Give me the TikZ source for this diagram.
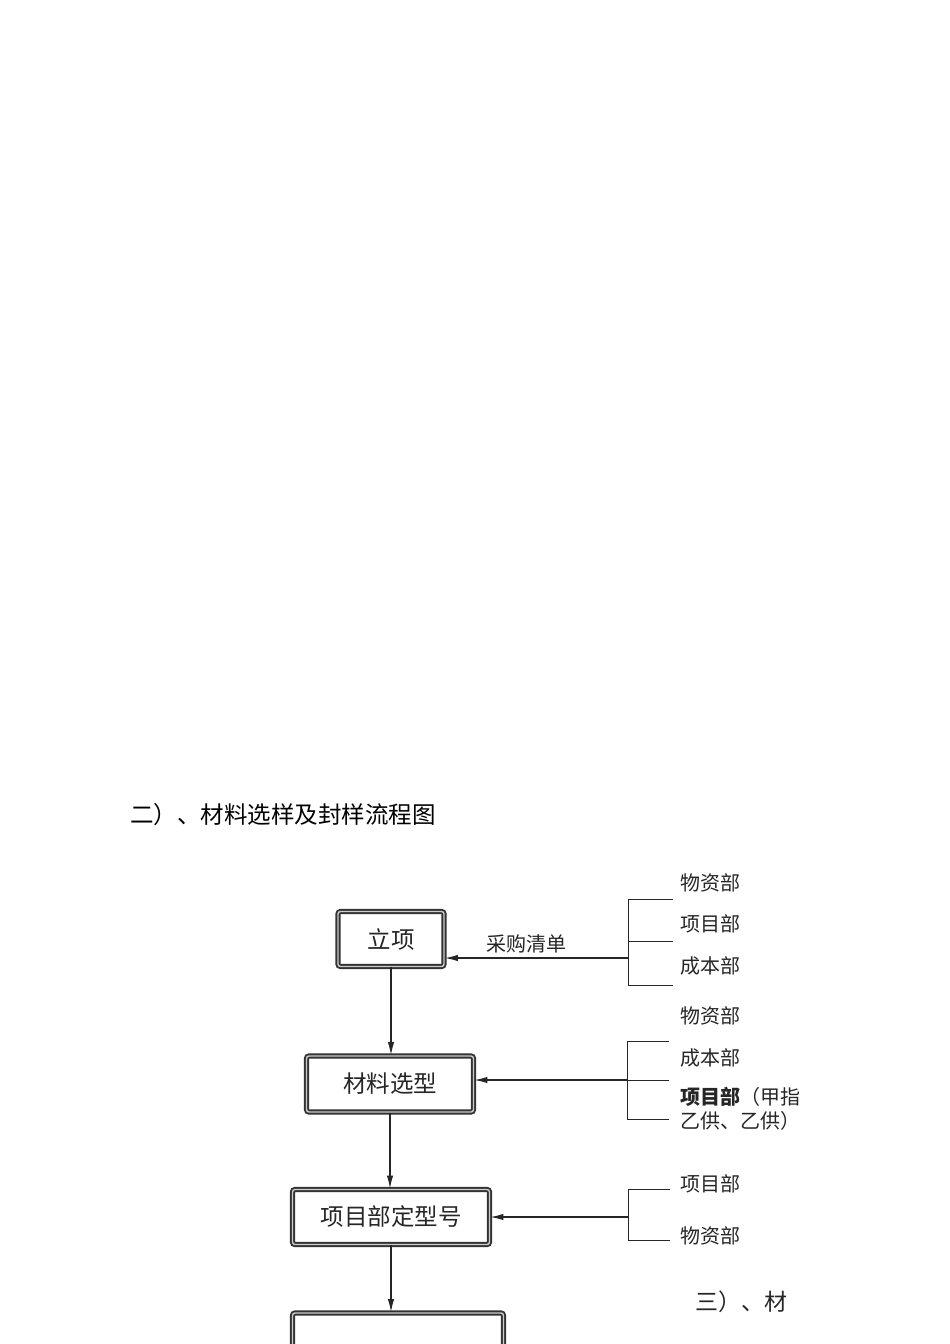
\documentclass[tikz,border=0pt]{standalone}
\usepackage{fontspec}
\setmainfont{Noto Sans CJK SC}
\usetikzlibrary{arrows.meta}

\tikzset{
    box/.style={draw=black!80, double=black!20, double distance=1.4pt, line width=1.9pt,
        rounded corners=2.5pt, font=\fontsize{23.5}{28}\selectfont, text=black!85},
    dept/.style={anchor=west, inner sep=0pt, font=\fontsize{20}{25}\selectfont, text=black!85},
    arr/.style={-{Latex[length=13pt,width=6.5pt]}, line width=1.2pt, draw=black!85},
    brk/.style={line width=1pt, draw=black!85}
}

\begin{document}
\begin{tikzpicture}[x=1pt, y=-1pt]

    \clip (0,0) rectangle (950,1344);
    \fill[white] (0,0) rectangle (950,1344);

    \node[anchor=west, inner sep=0pt, font=\fontsize{23.5}{28}\selectfont] (title) at (130,815) {二）、材料选样及封样流程图};

    \node[box, minimum width=106pt, minimum height=55pt] (lixiang) at (391,939) {立项};
    \node[box, minimum width=167pt, minimum height=56pt] (xuanxing) at (390,1084) {材料选型};
    \node[box, minimum width=197pt, minimum height=55pt] (dingxing) at (391,1217) {项目部定型号};
    \node[box, minimum width=211pt, minimum height=70pt] (next) at (398,1348) {};

    \draw[arr] (lixiang.south) -- (lixiang.south |- xuanxing.north);
    \draw[arr] (xuanxing.south) -- (xuanxing.south |- dingxing.north);
    \draw[arr] (dingxing.south) -- (dingxing.south |- next.north);

    % first group
    \coordinate (j1) at (628,958);
    \draw[brk] (673,899) -- (628,899) -- (628,985) -- (673,985);
    \draw[brk] (628,941) -- (673,941);
    \draw[arr] (j1) -- (j1 -| lixiang.east);
    \node[dept] (caigou) at (486,944) {采购清单};
    \node[dept] (wz1) at (680,883) {物资部};
    \node[dept] (xm1) at (680,924) {项目部};
    \node[dept] (cb1) at (680,966) {成本部};

    % second group
    \coordinate (j2) at (627,1080);
    \draw[brk] (669,1041) -- (627,1041) -- (627,1119) -- (669,1119);
    \draw[brk] (627,1080) -- (669,1080);
    \draw[arr] (j2) -- (j2 -| xuanxing.east);
    \node[dept] (wz2) at (680,1016) {物资部};
    \node[dept] (cb2) at (680,1058) {成本部};
    \node[dept, anchor=north west, align=left, font=\fontsize{20}{24}\selectfont] (xm2) at (680,1087) {\textbf{项目部}（甲指\\乙供、乙供）};

    % third group
    \coordinate (j3) at (628,1217);
    \draw[brk] (670,1189) -- (628,1189) -- (628,1240) -- (670,1240);
    \draw[arr] (j3) -- (j3 -| dingxing.east);
    \node[dept] (xm3) at (680,1184) {项目部};
    \node[dept] (wz3) at (680,1236) {物资部};

    \node[anchor=west, inner sep=0pt, font=\fontsize{23}{28}\selectfont, text=black!85] (next title) at (695,1302) {三）、材};

\end{tikzpicture}
\end{document}
